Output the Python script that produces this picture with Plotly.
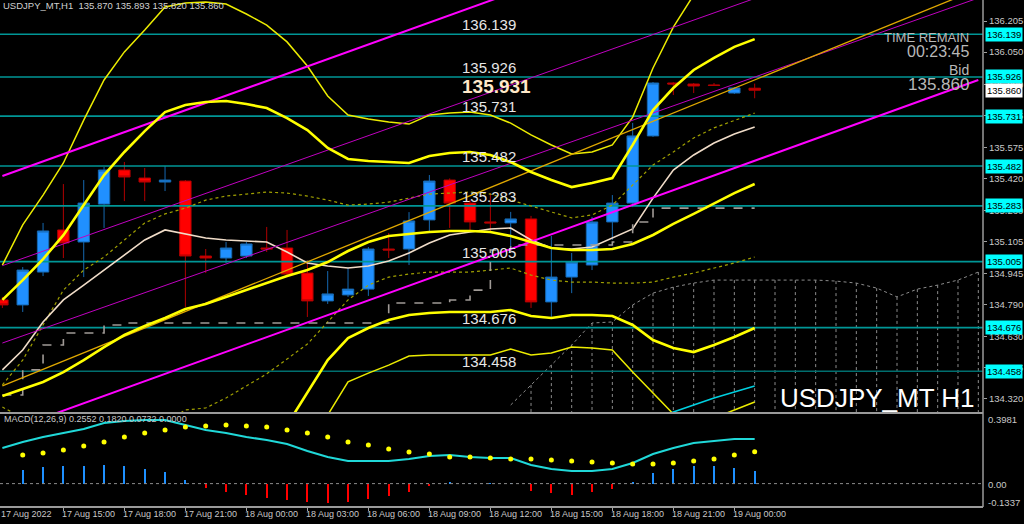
import pandas as pd
import plotly.graph_objects as go

# ---------------- data ----------------
bar_times = pd.date_range("2022-08-17 12:00", periods=38, freq="h")
cloud_times = pd.date_range("2022-08-18 13:00", periods=24, freq="h")
trend_times = pd.to_datetime(["2022-08-17 12:00", "2022-08-19 12:00"])

open_ = [134.814, 134.789, 134.953, 135.163, 135.103, 135.292, 135.462, 135.422, 135.402, 135.407,
         135.033, 135.023, 135.033, 135.073, 135.073, 134.948, 134.809, 134.839, 134.868, 135.068,
         135.068, 135.213, 135.412, 135.297, 135.203, 135.198, 135.218, 134.804, 134.928, 134.988,
         135.203, 135.297, 135.632, 135.896, 135.891, 135.886, 135.846, 135.870]
high = [134.829, 134.978, 135.198, 135.392, 135.412, 135.477, 135.502, 135.472, 135.482, 135.412,
        135.068, 135.103, 135.103, 135.178, 135.163, 135.013, 134.958, 134.973, 135.078, 135.148,
        135.252, 135.437, 135.420, 135.312, 135.347, 135.253, 135.233, 135.133, 135.048, 135.228,
        135.337, 135.697, 135.901, 135.900, 135.896, 135.896, 135.876, 135.893]
low = [134.774, 134.754, 134.933, 135.023, 134.928, 135.173, 135.307, 135.307, 135.357, 134.779,
       134.948, 134.998, 135.023, 135.053, 134.928, 134.729, 134.794, 134.829, 134.834, 135.023,
       134.988, 135.158, 135.173, 135.158, 135.158, 135.078, 134.774, 134.729, 134.848, 134.963,
       135.113, 135.277, 135.627, 135.836, 135.846, 135.881, 135.841, 135.820]
close = [134.789, 134.963, 135.158, 135.098, 135.297, 135.462, 135.427, 135.402, 135.412, 135.033,
         135.023, 135.073, 135.093, 135.068, 134.943, 134.809, 134.844, 134.868, 135.068, 135.063,
         135.208, 135.407, 135.297, 135.203, 135.198, 135.218, 134.804, 134.928, 135.003, 135.203,
         135.297, 135.632, 135.896, 135.891, 135.881, 135.884, 135.871, 135.860]

bb_mid = [134.335, 134.370, 134.405, 134.454, 134.514, 134.579, 134.639, 134.684, 134.724, 134.769,
          134.794, 134.829, 134.863, 134.898, 134.933, 134.963, 135.003, 135.058, 135.103, 135.133,
          135.143, 135.153, 135.158, 135.158, 135.153, 135.133, 135.103, 135.073, 135.063, 135.063,
          135.068, 135.093, 135.138, 135.193, 135.243, 135.297, 135.347, 135.392]
bb2_up = [134.814, 134.913, 135.018, 135.137, 135.287, 135.437, 135.552, 135.656, 135.751, 135.786,
          135.801, 135.806, 135.791, 135.771, 135.721, 135.661, 135.572, 135.517, 135.507, 135.502,
          135.497, 135.532, 135.547, 135.552, 135.537, 135.502, 135.452, 135.412, 135.377, 135.397,
          135.422, 135.587, 135.761, 135.871, 135.961, 136.021, 136.076, 136.115]
bb2_dn = [133.856, 133.826, 133.791, 133.771, 133.741, 133.721, 133.726, 133.711, 133.696, 133.751,
          133.786, 133.851, 133.936, 134.026, 134.190, 134.355, 134.514, 134.624, 134.674, 134.714,
          134.739, 134.749, 134.754, 134.754, 134.754, 134.764, 134.734, 134.724, 134.739, 134.739,
          134.734, 134.689, 134.614, 134.574, 134.554, 134.589, 134.629, 134.674]
bb3_up = [134.988, 135.188, 135.337, 135.497, 135.711, 135.911, 136.051, 136.160, 136.275, 136.295,
          136.300, 136.290, 136.240, 136.185, 136.101, 135.981, 135.831, 135.736, 135.716, 135.701,
          135.691, 135.736, 135.746, 135.751, 135.736, 135.696, 135.637, 135.587, 135.542, 135.552,
          135.587, 135.726, 135.971, 136.175, 136.335, 136.435, 136.534, 136.609]
bb3_dn = [133.616, 133.552, 133.487, 133.427, 133.352, 133.292, 133.267, 133.227, 133.183, 133.242,
          133.282, 133.362, 133.472, 133.587, 133.751, 134.016, 134.240, 134.405, 134.449, 134.489,
          134.534, 134.539, 134.539, 134.539, 134.539, 134.569, 134.539, 134.549, 134.579, 134.574,
          134.564, 134.454, 134.350, 134.245, 134.190, 134.225, 134.265, 134.305]
bb1_up = [134.390, 134.514, 134.689, 134.863, 134.963, 135.028, 135.113, 135.198, 135.243, 135.272,
          135.312, 135.332, 135.342, 135.352, 135.347, 135.332, 135.312, 135.287, 135.292, 135.302,
          135.322, 135.342, 135.347, 135.352, 135.342, 135.312, 135.282, 135.253, 135.223, 135.238,
          135.287, 135.387, 135.487, 135.552, 135.622, 135.672, 135.711, 135.746]
bb1_dn = [134.280, 134.225, 134.120, 134.045, 134.065, 134.130, 134.165, 134.170, 134.205, 134.265,
          134.275, 134.325, 134.385, 134.445, 134.519, 134.594, 134.704, 134.814, 134.888, 134.928,
          134.943, 134.953, 134.953, 134.953, 134.963, 134.973, 134.938, 134.913, 134.903, 134.903,
          134.898, 134.898, 134.903, 134.928, 134.948, 134.973, 134.998, 135.028]
fast_ma = [134.465, 134.564, 134.704, 134.814, 134.888, 134.963, 135.038, 135.113, 135.163, 135.143,
           135.123, 135.113, 135.108, 135.103, 135.053, 134.998, 134.983, 134.973, 134.983, 135.008,
           135.048, 135.098, 135.138, 135.153, 135.168, 135.173, 135.113, 135.073, 135.068, 135.078,
           135.123, 135.168, 135.322, 135.462, 135.537, 135.597, 135.642, 135.677]
kijun = [134.340, 134.465, 134.589, 134.649, 134.649, 134.689, 134.699, 134.699, 134.699, 134.699,
         134.699, 134.699, 134.699, 134.699, 134.699, 134.699, 134.699, 134.699, 134.699, 134.799,
         134.799, 134.799, 134.814, 134.863, 135.063, 135.088, 135.088, 135.088, 135.088, 135.088,
         135.103, 135.203, 135.272, 135.272, 135.272, 135.272, 135.272, 135.272]
cloud_top = [134.290, 134.390, 134.489, 134.589, 134.699, 134.704, 134.789, 134.848, 134.878, 134.898,
             134.913, 134.913, 134.913, 134.913, 134.913, 134.913, 134.908, 134.898, 134.873, 134.829,
             134.868, 134.888, 134.913, 134.953]
cloud_floor = 134.0
cyan_tail = [134.215, 134.255, 134.290, 134.325, 134.355, 134.385]  # bars 32..37

chan_upper = [135.432, 137.182]
chan_inner_hi = [134.985, 136.714]
chan_inner_lo = [134.599, 136.320]
chan_lower = [134.152, 135.911]
gold_line = [134.385, 136.365]

levels = [136.139, 135.926, 135.731, 135.482, 135.283, 135.005, 134.676, 134.458]
level_labels = ["136.139", "135.926", "135.731", "135.482", "135.283", "135.005", "134.676", "134.458"]
tick_prices = [136.205, 136.050, 135.890, 135.735, 135.575, 135.420, 135.260, 135.105, 134.945,
               134.790, 134.630, 134.475, 134.320]
day_high = 135.931
bid = 135.860

macd_main = [0.2037, 0.2380, 0.2666, 0.2895, 0.3123, 0.3466, 0.3581, 0.3638, 0.3638, 0.3352,
             0.3066, 0.2895, 0.2666, 0.2494, 0.2266, 0.1865, 0.1522, 0.1294, 0.1294, 0.1294,
             0.1408, 0.1579, 0.1637, 0.1522, 0.1465, 0.1465, 0.1065, 0.0836, 0.0722, 0.0722,
             0.0836, 0.1179, 0.1694, 0.2037, 0.2323, 0.2437, 0.2552, 0.2552]
macd_signal = [None, 0.1637, 0.1751, 0.1923, 0.2151, 0.2380, 0.2666, 0.2895, 0.3066, 0.3238,
               0.3295, 0.3352, 0.3295, 0.3238, 0.3066, 0.2895, 0.2666, 0.2380, 0.2208, 0.1980,
               0.1808, 0.1694, 0.1522, 0.1522, 0.1465, 0.1408, 0.1408, 0.1351, 0.1294, 0.1236,
               0.1179, 0.1122, 0.1122, 0.1179, 0.1294, 0.1408, 0.1637, 0.1820]
macd_hist = [None, 0.080, 0.097, 0.103, 0.103, 0.109, 0.103, 0.086, 0.069, 0.023,
             -0.023, -0.046, -0.063, -0.080, -0.091, -0.103, -0.109, -0.103, -0.086, -0.069,
             -0.046, -0.011, 0.008, 0.004, 0.003, 0.002, -0.040, -0.051, -0.063, -0.046,
             -0.029, 0.011, 0.063, 0.086, 0.103, 0.103, 0.091, 0.073]
macd_max, macd_min = 0.3981, -0.1337

time_ticks = pd.date_range("2022-08-17 15:00", periods=12, freq="3h")
time_labels = [t.strftime("%d %b %H:%M") for t in time_ticks]
first_label = "17 Aug 2022"

# ---------------- figure ----------------
NARROW = "Liberation Sans Narrow, Arial Narrow, Liberation Sans, Arial, sans-serif"
SANS = "Liberation Sans, Arial, sans-serif"
fig = go.Figure()

def line(x, y, color, width, dash="solid", yaxis="y", xaxis="x", shape="linear"):
    fig.add_trace(go.Scatter(x=x, y=y, mode="lines", xaxis=xaxis, yaxis=yaxis,
                             line=dict(color=color, width=width, dash=dash, shape=shape),
                             hoverinfo="skip", connectgaps=False))

# Ichimoku-like cloud hatch
hx, hy = [], []
for t, v in zip(cloud_times[1:], cloud_top[1:]):
    hx += [t, t, None]
    hy += [v, cloud_floor, None]
line(hx, hy, "#8c8c8c", 1, "dot")
line(cloud_times, cloud_top, "#8c8c8c", 1, "dot")

# horizontal levels
for lv in levels:
    col = "rgba(0,150,150,1)" if lv != 134.458 else "rgba(0,110,110,1)"
    line([bar_times[0] - pd.Timedelta(hours=2), bar_times[0] + pd.Timedelta(hours=60)], [lv, lv], col, 1.6)

# Bollinger style bands
line(bar_times, bb1_up, "#a0a000", 1.2, "dot")
line(bar_times, bb1_dn, "#a0a000", 1.2, "dot")
line(bar_times, bb3_up, "#ecec00", 1.5)
line(bar_times, bb3_dn, "#ecec00", 1.5)
line(bar_times, fast_ma, "#f0dcc8", 1.6)
line(bar_times, kijun, "#a09a96", 1.6, "dash", shape="hv")
line(bar_times[32:], cyan_tail, "#00d0e0", 1.6)

# channel lines
line(trend_times, chan_inner_hi, "#c000c0", 1)
line(trend_times, chan_inner_lo, "#c000c0", 1)
line(trend_times, gold_line, "#e0a800", 1.3)
line(trend_times, chan_upper, "#ff00ff", 2)
line(trend_times, chan_lower, "#ff00ff", 2)

line(bar_times, bb_mid, "#ffff00", 2.6)
line(bar_times, bb2_up, "#ffff00", 2.6)
line(bar_times, bb2_dn, "#ffff00", 2.6)

fig.add_trace(go.Candlestick(
    x=bar_times, open=open_, high=high, low=low, close=close,
    increasing=dict(line=dict(color="#1668b0", width=1), fillcolor="#2090ff"),
    decreasing=dict(line=dict(color="#b00000", width=1), fillcolor="#ff0000"),
    whiskerwidth=0, hoverinfo="skip", xaxis="x", yaxis="y"))

# MACD panel
fig.add_trace(go.Bar(x=bar_times, y=macd_hist, xaxis="x2", yaxis="y2", width=3.6e5,
                     marker=dict(color=["#1e90ff" if (v is not None and v >= 0) else "#ff0000" for v in macd_hist],
                                 line=dict(width=0)), hoverinfo="skip"))
line(bar_times, macd_main, "#20d8d8", 2, yaxis="y2", xaxis="x2")
fig.add_trace(go.Scatter(x=bar_times, y=macd_signal, mode="markers", xaxis="x2", yaxis="y2",
                         marker=dict(color="#ffff00", size=5), hoverinfo="skip"))

x0 = bar_times[0] - pd.Timedelta(minutes=7, seconds=3)
x1 = bar_times[0] + pd.Timedelta(hours=48, minutes=13, seconds=48)
main_dom = [1 - 412 / 507, 1]
macd_dom = [0, 1 - 414 / 507]

fig.update_layout(
    template="none",
    width=1024, height=524, margin=dict(l=0, r=41, t=0, b=17, pad=0, autoexpand=False),
    paper_bgcolor="black", plot_bgcolor="black", showlegend=False, boxgap=0.2,
    hovermode=False, bargap=0,
    xaxis=dict(range=[x0, x1], domain=[0, 1], anchor="y", showgrid=False, zeroline=False,
               showticklabels=False, ticks="", rangeslider=dict(visible=False), showline=False,
               automargin=False),
    yaxis=dict(range=[134.255, 136.310], domain=main_dom, side="right", anchor="x",
               showgrid=False, zeroline=False, tickvals=tick_prices, automargin=False,
               ticktext=[f"{v:.3f}" for v in tick_prices], ticks="outside", ticklen=3,
               tickcolor="#a0a0a0", tickfont=dict(family=SANS, size=9.5, color="#c8c8c8"),
               showline=False),
    xaxis2=dict(range=[x0, x1], domain=[0, 1], anchor="y2", showgrid=False, zeroline=False,
                showticklabels=False, tickvals=time_ticks, ticks="outside", ticklen=3,
                tickcolor="#a0a0a0", showline=False, automargin=False),
    yaxis2=dict(range=[macd_min, macd_max], domain=macd_dom, side="right", anchor="x2",
                showgrid=False, zeroline=False, showticklabels=False, showline=False,
                automargin=False),
)

# panel frame lines
shapes = [
    dict(type="line", xref="paper", yref="paper", x0=0, x1=1, y0=1 - 413 / 507, y1=1 - 413 / 507,
         line=dict(color="#9a9a9a", width=2)),
    dict(type="line", xref="paper", yref="paper", x0=0, x1=1, y0=0, y1=0,
         line=dict(color="#9a9a9a", width=2)),
    dict(type="line", xref="paper", yref="paper", x0=1, x1=1, y0=0, y1=1,
         line=dict(color="#9a9a9a", width=1.5)),
    dict(type="line", xref="paper", yref="y2", x0=0, x1=1, y0=0, y1=0,
         line=dict(color="#8c8c8c", width=1, dash="dot")),
]
fig.update_layout(shapes=shapes)

ann = []
# header
ann.append(dict(text="USDJPY_MT,H1  135.870 135.893 135.820 135.860", xref="paper", yref="paper",
                x=0.001, y=1 - 6 / 507, xanchor="left", yanchor="middle", showarrow=False,
                font=dict(family=SANS, size=9.5, color="#d0d0d0")))
# level labels in chart and boxes on axis
for lv, lab in zip(levels, level_labels):
    ann.append(dict(text=lab, xref="paper", yref="y", x=462 / 983, y=lv, xanchor="left",
                    yanchor="bottom", showarrow=False, yshift=-1, xshift=-2,
                    font=dict(family=NARROW, size=15, color="#e6e6e6")))
    ann.append(dict(text=lab, xref="paper", yref="y", x=1, y=lv, xanchor="left", yanchor="middle",
                    xshift=2, showarrow=False, bgcolor="#00ffff", borderpad=1,
                    font=dict(family=SANS, size=9.5, color="#000000")))
ann.append(dict(text=f"{bid:.3f}", xref="paper", yref="y", x=1, y=bid, xanchor="left", yanchor="middle",
                xshift=2, showarrow=False, bgcolor="#ffffff", borderpad=1,
                font=dict(family=SANS, size=9.5, color="#000000")))
ann.append(dict(text=f"<b>{day_high:.3f}</b>", xref="paper", yref="y", x=462 / 983, y=day_high,
                xanchor="left", yanchor="top", showarrow=False, yshift=2, xshift=-2,
                font=dict(family=SANS, size=19, color="#ffe8c8")))
# time remain block
for txt, ypx, sz in [("TIME REMAIN", 38, 13), ("00:23:45", 52, 16), ("Bid", 70, 14), (f"{bid:.3f}", 85, 17)]:
    ann.append(dict(text=txt, xref="paper", yref="paper", x=971 / 983, y=1 - ypx / 507,
                    xanchor="right", yanchor="middle", showarrow=False,
                    font=dict(family=NARROW, size=sz, color="#b8b8b8")))
ann.append(dict(text="USDJPY_MT H1", xref="paper", yref="paper", x=977 / 983, y=1 - 398 / 507,
                xanchor="right", yanchor="middle", showarrow=False,
                font=dict(family=NARROW, size=26, color="#ffffff")))
# MACD labels
ann.append(dict(text="MACD(12,26,9) 0.2552 0.1820 0.0732 0.0000", xref="paper", yref="paper",
                x=0.002, y=1 - 419 / 507, xanchor="left", yanchor="middle", showarrow=False,
                font=dict(family=SANS, size=9, color="#c8c8c8")))
for txt, ypx in [("0.3981", 419), ("0.00", 484), ("-0.1337", 502)]:
    ann.append(dict(text=txt, xref="paper", yref="paper", x=1, y=1 - ypx / 507, xanchor="left",
                    yanchor="middle", xshift=3, showarrow=False,
                    font=dict(family=SANS, size=9.5, color="#c8c8c8")))
# time labels
ann.append(dict(text=first_label, xref="x2", yref="paper", x=bar_times[0], y=-7 / 507,
                xanchor="left", yanchor="middle", showarrow=False, xshift=-3,
                font=dict(family=SANS, size=9, color="#c8c8c8")))
for t, lab in zip(time_ticks, time_labels):
    ann.append(dict(text=lab, xref="x2", yref="paper", x=t, y=-7 / 507, xanchor="left",
                    yanchor="middle", showarrow=False, xshift=-3,
                    font=dict(family=SANS, size=9, color="#c8c8c8")))
fig.update_layout(annotations=ann)

fig.write_html("out.html", config={"displayModeBar": False, "staticPlot": True},
               post_script="document.body.style.margin='0px';document.body.style.background='black';")
